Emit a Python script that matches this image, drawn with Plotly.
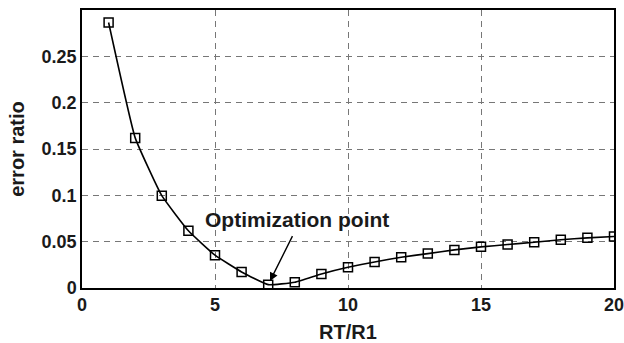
import plotly.graph_objects as go

x_vals = list(range(1, 21))
err_ratio = [0.2865, 0.162, 0.0996, 0.0617, 0.0354, 0.0173, 0.0036, 0.0062, 0.0152, 0.0224,
             0.0281, 0.0332, 0.0371, 0.0411, 0.0444, 0.0469, 0.0494, 0.052, 0.0541, 0.0555]
x_ticks = [0, 5, 10, 15, 20]
y_ticks = [0, 0.05, 0.1, 0.15, 0.2, 0.25]
y_tick_text = ["0", "0.05", "0.1", "0.15", "0.2", "0.25"]

FONT = "Liberation Sans, Arial, sans-serif"

fig = go.Figure()
fig.add_trace(go.Scatter(
    x=x_vals, y=err_ratio, mode="lines+markers",
    line=dict(color="black", width=1.6, shape="spline", smoothing=0.35),
    marker=dict(symbol="square-open", size=9, color="black", line=dict(width=1.5, color="black")),
    showlegend=False,
))

fig.add_annotation(x=7, y=err_ratio[6], ax=25, ay=-50, xref="x", yref="y",
                   text="", showarrow=True, arrowhead=2, arrowsize=1.2, arrowwidth=1.4,
                   arrowcolor="black", standoff=4)
fig.add_annotation(x=8.08, y=0.0736, xref="x", yref="y", text="<b>Optimization point</b>",
                   showarrow=False, font=dict(family=FONT, size=21, color="#1a1a1a"))

axis_common = dict(showline=True, linecolor="black", linewidth=1.5, mirror=True,
                   showgrid=True, gridcolor="#777777", griddash="6px,5px", gridwidth=1.2,
                   zeroline=False, ticks="", automargin=False, ticklabeloverflow="allow",
                   tickfont=dict(family=FONT, size=18, color="#1a1a1a"))

fig.update_xaxes(range=[0, 20], tickvals=x_ticks, ticktext=[f"<b>{t}</b>" for t in x_ticks],
                 title=dict(text="<b>RT/R1</b>", font=dict(family=FONT, size=20, color="#1a1a1a"), standoff=12),
                 **axis_common)
fig.update_yaxes(range=[0, 0.3], tickvals=y_ticks, ticktext=[f"<b>{t}</b>" for t in y_tick_text],
                 title=dict(text="<b>error ratio</b>", font=dict(family=FONT, size=20, color="#1a1a1a"), standoff=12),
                 **axis_common)

fig.update_layout(width=624, height=343, margin=dict(l=82, r=10, t=10, b=55),
                  plot_bgcolor="white", paper_bgcolor="white")

fig.write_html("out.html")
